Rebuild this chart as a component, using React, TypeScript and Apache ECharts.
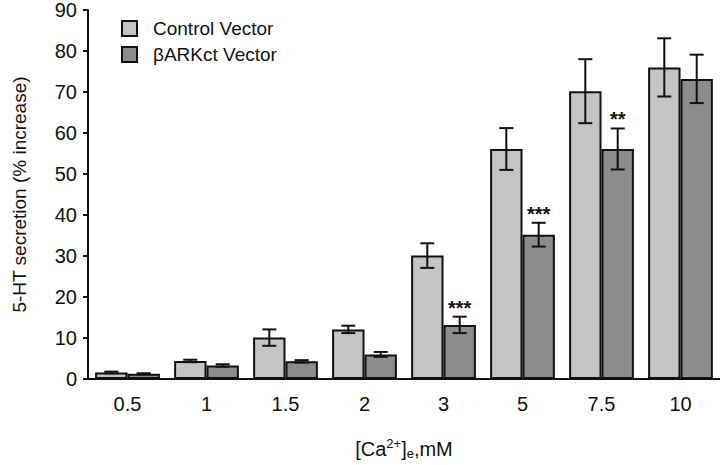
import React, { useEffect, useRef } from "react";
import * as echarts from "echarts";

const categories = ["0.5", "1", "1.5", "2", "3", "5", "7.5", "10"];
const controlValues = [1.6, 4.4, 10.1, 12.1, 30.1, 56.1, 70.2, 76.0];
const controlErrors = [0.2, 0.3, 2.0, 0.9, 3.0, 5.1, 7.8, 7.1];
const controlStars = ["", "", "", "", "", "", "", ""];
const betaValues = [1.3, 3.3, 4.3, 6.0, 13.2, 35.2, 56.1, 73.2];
const betaErrors = [0.1, 0.3, 0.3, 0.6, 2.0, 2.9, 5.0, 5.9];
const betaStars = ["", "", "", "", "***", "***", "**", ""];
const yTicks = { min: 0, max: 90, interval: 10 };

const FONT = "'Liberation Sans', Arial, Helvetica, sans-serif";
const GAP = 0.18;

function errorSeries(values: number[], errors: number[], stars: string[], side: number) {
  return {
    type: "custom",
    z: 10,
    silent: true,
    data: values.map((v, i) => [i, v, errors[i]]),
    renderItem: (params: any, api: any) => {
      const idx = api.value(0);
      const v = api.value(1);
      const e = api.value(2);
      const band = api.size([1, 0])[0];
      const barW = (band * (1 - GAP)) / 2;
      const c = api.coord([idx, v]);
      const x = c[0] + (side * barW) / 2;
      const top = api.coord([idx, v + e])[1];
      const bot = api.coord([idx, v - e])[1];
      const cap = 7;
      const st = { stroke: "#111", lineWidth: 2 };
      const children: any[] = [
        { type: "line", shape: { x1: x, y1: top, x2: x, y2: bot }, style: st },
        { type: "line", shape: { x1: x - cap, y1: top, x2: x + cap, y2: top }, style: st },
        { type: "line", shape: { x1: x - cap, y1: bot, x2: x + cap, y2: bot }, style: st },
      ];
      const s = stars[params.dataIndex];
      if (s) {
        children.push({
          type: "text",
          style: {
            text: s,
            x: x,
            y: top + 1,
            align: "center",
            verticalAlign: "bottom",
            fontSize: 20,
            fontWeight: "bold",
            fontFamily: FONT,
            fill: "#111",
          },
        });
      }
      return { type: "group", children };
    },
  };
}

export default function App() {
  const ref = useRef<HTMLDivElement>(null);
  useEffect(() => {
    if (!ref.current) return;
    const chart = echarts.init(ref.current, undefined, { renderer: "svg" });
    chart.setOption({
      animation: false,
      backgroundColor: "#fff",
      textStyle: { fontFamily: FONT, color: "#111" },
      grid: { left: 88, right: 0, top: 8, bottom: 80, containLabel: false },
      legend: {
        orient: "vertical",
        left: 121,
        top: 19,
        padding: 0,
        itemWidth: 15,
        itemHeight: 15,
        itemGap: 7,
        icon: "rect",
        data: ["Control Vector", "βARKct Vector"],
        textStyle: { fontSize: 19, color: "#111", fontFamily: FONT, padding: [0, 0, 0, 11] },
      },
      xAxis: {
        type: "category",
        data: categories,
        axisLine: { lineStyle: { color: "#111", width: 2 } },
        axisTick: { show: false },
        axisLabel: { fontSize: 20, color: "#111", margin: 15, fontFamily: FONT },
        name: "[Ca{sup|2+}]{sub|e},mM",
        nameLocation: "middle",
        nameGap: 58,
        nameTextStyle: {
          fontSize: 20,
          color: "#111",
          fontFamily: FONT,
          rich: {
            sup: { fontSize: 13, padding: [0, 0, 10, 0], fontFamily: FONT, color: "#111" },
            sub: { fontSize: 13, padding: [10, 0, 0, 0], fontFamily: FONT, color: "#111" },
          },
        },
      },
      yAxis: {
        type: "value",
        min: yTicks.min,
        max: yTicks.max,
        interval: yTicks.interval,
        axisLine: { show: true, lineStyle: { color: "#111", width: 2 } },
        axisTick: { show: true, length: 5, lineStyle: { color: "#111", width: 2 } },
        splitLine: { show: false },
        axisLabel: { fontSize: 20, color: "#111", margin: 11, fontFamily: FONT },
        name: "5-HT secretion (% increase)",
        nameLocation: "middle",
        nameGap: 59,
        nameTextStyle: { fontSize: 19, color: "#111", fontFamily: FONT },
      },
      series: [
        {
          name: "Control Vector",
          type: "bar",
          data: controlValues,
          barGap: "0%",
          barCategoryGap: GAP * 100 + "%",
          itemStyle: { color: "#c4c4c4", borderColor: "#111", borderWidth: 2 },
        },
        {
          name: "βARKct Vector",
          type: "bar",
          data: betaValues,
          barGap: "0%",
          barCategoryGap: GAP * 100 + "%",
          itemStyle: { color: "#8c8c8c", borderColor: "#111", borderWidth: 2 },
        },
        errorSeries(controlValues, controlErrors, controlStars, -1),
        errorSeries(betaValues, betaErrors, betaStars, 1),
      ],
    });
    return () => chart.dispose();
  }, []);
  return <div ref={ref} style={{ width: 720, height: 465, position: "absolute", left: 0, top: 0 }} />;
}
